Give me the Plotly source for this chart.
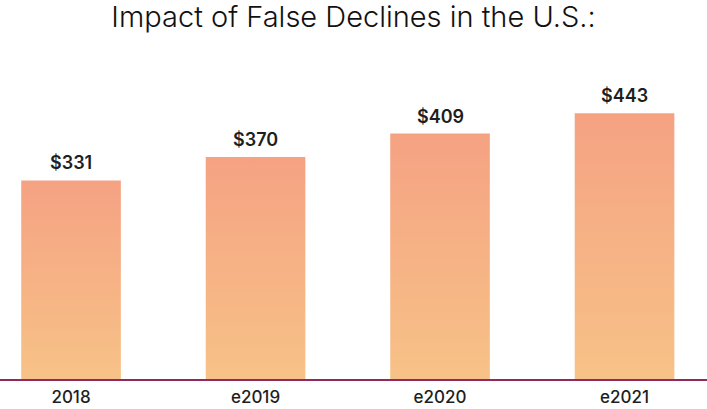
import plotly.graph_objects as go

YEARS = ['2018', 'e2019', 'e2020', 'e2021']
VALUES = [331, 370, 409, 443]
LABELS = ['$331', '$370', '$409', '$443']

TOP_COLOR = '#F5A283'
BOTTOM_COLOR = '#F7C287'
BASE_COLOR = '#8E2A5E'
BAR_HALF = 0.27

fig = go.Figure()

# bars drawn as filled shapes so they can carry a vertical gradient
for i, (year, val) in enumerate(zip(YEARS, VALUES)):
    xs = [i - BAR_HALF, i - BAR_HALF, i + BAR_HALF, i + BAR_HALF, i - BAR_HALF]
    ys = [0, val, val, 0, 0]
    fig.add_trace(go.Scatter(
        x=xs, y=ys, mode='lines', fill='toself', line=dict(width=0),
        fillgradient=dict(type='vertical',
                          colorscale=[[0, BOTTOM_COLOR], [1, TOP_COLOR]]),
        hoverinfo='skip', showlegend=False))

for i, (val, lab) in enumerate(zip(VALUES, LABELS)):
    fig.add_annotation(x=i, y=val, text=lab, showarrow=False,
                       yanchor='bottom', yshift=5,
                       font=dict(family='Inter', size=18, color='#1e1e1e', weight=600))

fig.update_xaxes(range=[-0.385, 3.447], tickvals=list(range(len(YEARS))), ticktext=YEARS,
                 showgrid=False, zeroline=False, ticks='',
                 showline=True, linecolor=BASE_COLOR, linewidth=2,
                 ticklabelstandoff=2, automargin=False,
                 tickfont=dict(family='Inter', size=17, color='#1e1e1e', weight=500))
fig.update_yaxes(range=[0, 531.7], visible=False)

fig.update_layout(
    width=707, height=409,
    margin=dict(l=0, r=0, t=60, b=30, pad=0),
    plot_bgcolor='white', paper_bgcolor='white',
    title=dict(text='Impact of False Declines in the U.S.:', x=0.5, xanchor='center',
               y=0.958, yref='container', yanchor='middle',
               font=dict(family='Inter', size=29, color='#111111', weight=300)),
)

fig.write_html("out.html", config={'displayModeBar': False},
               post_script="document.body.style.margin='0';")
